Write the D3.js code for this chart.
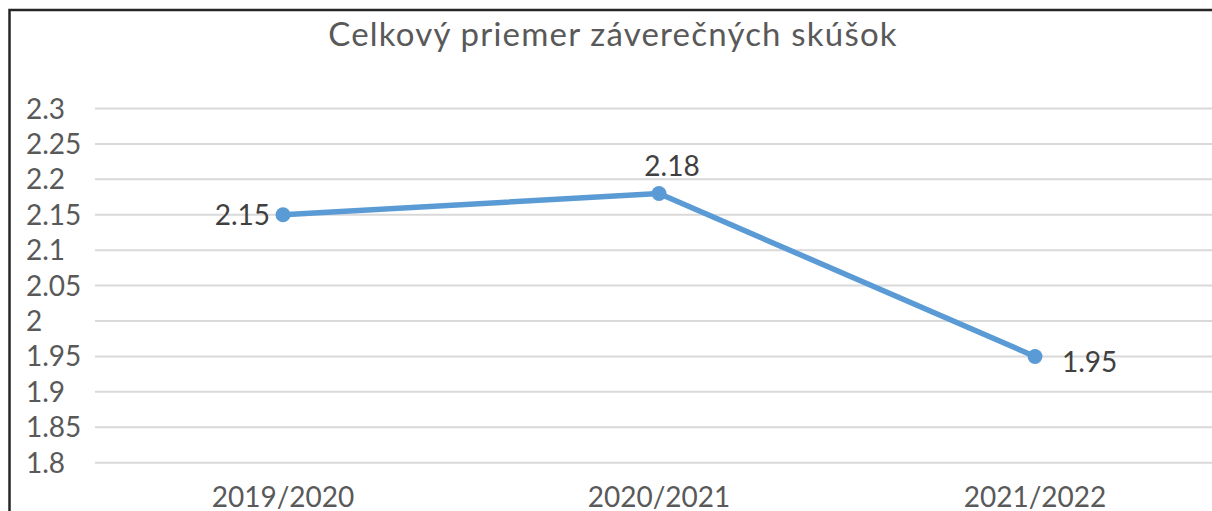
<!DOCTYPE html>
<html>
<head>
<meta charset="utf-8">
<script src="https://cdn.jsdelivr.net/npm/d3@7"></script>
<style>
  html, body { margin: 0; padding: 0; background: #fff; overflow: hidden; }
  svg { display: block; }
  text { font-family: Lato, "Open Sans", sans-serif; }
</style>
</head>
<body>
<script>
// chart data
var years = ["2019/2020", "2020/2021", "2021/2022"];
var averages = [2.15, 2.18, 1.95];
var yTicks = [1.8, 1.85, 1.9, 1.95, 2, 2.05, 2.1, 2.15, 2.2, 2.25, 2.3];
var title = "Celkový priemer záverečných skúšok";

var w = 1212, h = 511;

var svg = d3.select("body").append("svg")
    .attr("width", w)
    .attr("height", h);

// chart frame: only the left and top edges show in the crop
svg.append("path")
    .attr("d", "M9.5," + h + "V10H" + w)
    .attr("fill", "none")
    .attr("stroke", "#262626")
    .attr("stroke-width", 2.5);

var x = d3.scaleBand().domain(years).range([95, 1223]);
var y = d3.scaleLinear().domain([1.8, 2.3]).range([462.7, 108.5]);

// gridlines
svg.append("g").selectAll("line")
    .data(yTicks)
    .enter().append("line")
    .attr("x1", 95).attr("x2", w)
    .attr("y1", function(d) { return y(d); })
    .attr("y2", function(d) { return y(d); })
    .attr("stroke", "#d9d9d9")
    .attr("stroke-width", 2);

// y axis labels
svg.append("g").selectAll("text")
    .data(yTicks)
    .enter().append("text")
    .attr("x", 26)
    .attr("y", function(d) { return y(d) + 10; })
    .attr("font-size", 28)
    .attr("fill", "#595959")
    .text(function(d) { return String(d); });

// x axis labels (cut at the bottom edge, as in the source)
svg.append("g").selectAll("text")
    .data(years)
    .enter().append("text")
    .attr("x", function(d) { return x(d) + x.bandwidth() / 2; })
    .attr("y", 507)
    .attr("text-anchor", "middle")
    .attr("font-size", 28)
    .attr("fill", "#595959")
    .text(function(d) { return d; });

// title
svg.append("text")
    .attr("x", 613)
    .attr("y", 46)
    .attr("text-anchor", "middle")
    .attr("font-size", 33)
    .attr("letter-spacing", 1.2)
    .attr("fill", "#595959")
    .text(title);

var pts = years.map(function(d, i) { return { year: d, v: averages[i] }; });

var line = d3.line()
    .x(function(d) { return x(d.year) + x.bandwidth() / 2; })
    .y(function(d) { return y(d.v); });

svg.append("path")
    .datum(pts)
    .attr("d", line)
    .attr("fill", "none")
    .attr("stroke", "#5b9bd5")
    .attr("stroke-width", 5.5)
    .attr("stroke-linejoin", "round");

svg.append("g").selectAll("circle")
    .data(pts)
    .enter().append("circle")
    .attr("cx", function(d) { return x(d.year) + x.bandwidth() / 2; })
    .attr("cy", function(d) { return y(d.v); })
    .attr("r", 7.5)
    .attr("fill", "#5b9bd5");

// data labels: left, above, right
var labelPos = [
  { dx: -13, dy: 10, anchor: "end" },
  { dx: 13, dy: -18, anchor: "middle" },
  { dx: 27, dy: 16, anchor: "start" }
];

svg.append("g").selectAll("text")
    .data(pts)
    .enter().append("text")
    .attr("x", function(d, i) { return x(d.year) + x.bandwidth() / 2 + labelPos[i].dx; })
    .attr("y", function(d, i) { return y(d.v) + labelPos[i].dy; })
    .attr("text-anchor", function(d, i) { return labelPos[i].anchor; })
    .attr("font-size", 28)
    .attr("fill", "#404040")
    .text(function(d) { return d.v.toFixed(2); });
</script>
</body>
</html>
